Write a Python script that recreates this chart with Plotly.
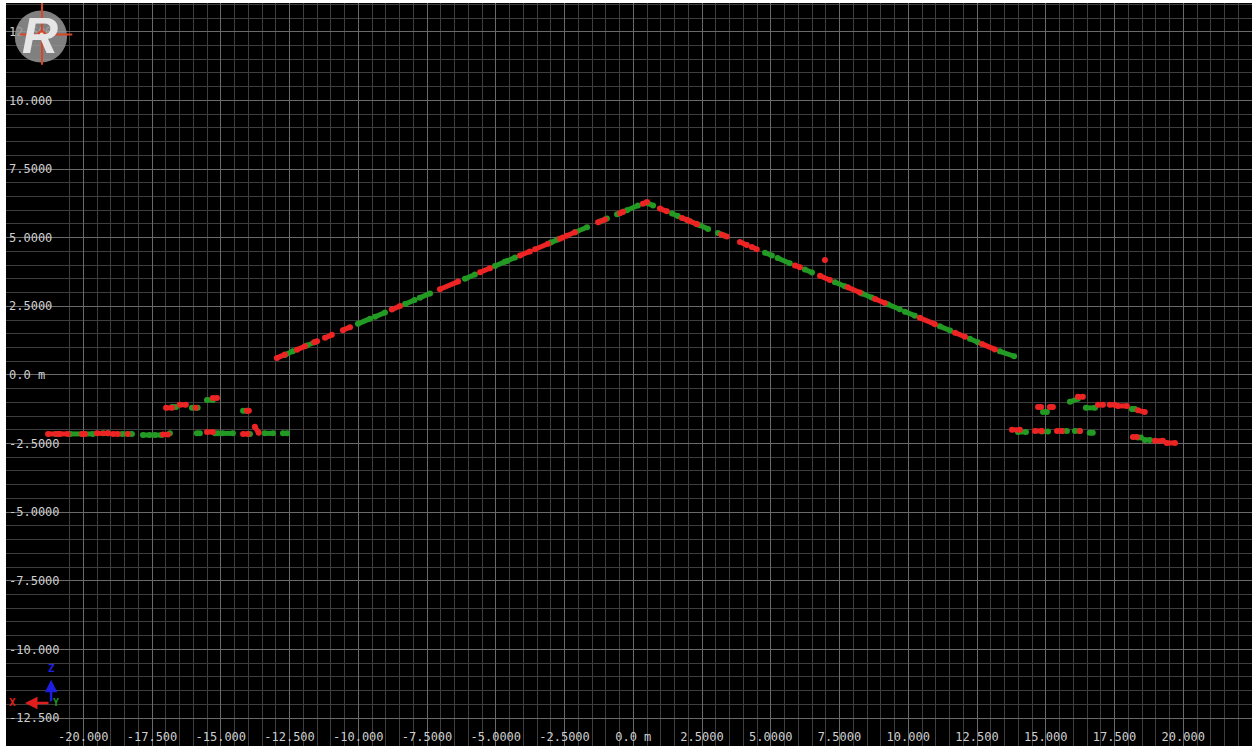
import plotly.graph_objects as go

# ---- tick labels ----
x_ticks = [-20, -17.5, -15, -12.5, -10, -7.5, -5, -2.5, 0, 2.5, 5, 7.5, 10, 12.5, 15, 17.5, 20]
x_labels = ["-20.000", "-17.500", "-15.000", "-12.500", "-10.000", "-7.5000", "-5.0000", "-2.5000",
            "0.0 m", "2.5000", "5.0000", "7.5000", "10.000", "12.500", "15.000", "17.500", "20.000"]
y_ticks = [12.5, 10, 7.5, 5, 2.5, 0, -2.5, -5, -7.5, -10, -12.5]
y_labels = ["12.500", "10.000", "7.5000", "5.0000", "2.5000", "0.0 m",
            "-2.5000", "-5.0000", "-7.5000", "-10.000", "-12.500"]

# ---- red returns (dashes separated by None) ----
red_x = [
    # left roof slope
    -12.96, -12.67, None, -12.23, -11.94, None, -11.61, -11.50, None, -11.21, -10.96, None,
    -10.56, -10.30, None, -8.78, -8.48, None, -7.03, -6.37, None, -5.57, -5.21, None,
    -4.12, -3.76, None, -3.57, -3.10, None, -2.67, -2.56, None, -2.42, -2.12, None,
    -1.28, -1.03, None, -0.48, -0.37, None, 0.35, 0.50, None,
    # right roof slope
    0.97, 1.22, None, 1.77, 1.95, None, 2.06, 2.32, None, 3.20, 3.40, None, 3.88, 4.13, None,
    4.31, 4.49, None, 5.88, 6.06, None, 6.79, 7.15, None, 7.80, 8.24, None, 8.79, 9.15, None,
    10.42, 10.97, None, 11.70, 12.06, None, 12.68, 13.15, None, 6.97, None,
    # left ground
    -21.28, -20.92, None, -20.85, -20.56, None, -20.05, -19.94, None, -19.50, -19.10, None,
    -18.92, -18.74, None, -18.38, None, -17.10, -16.92, None, -15.50, -15.29, None,
    -14.19, -14.02, None, -13.76, -13.62, None,
    -16.99, -16.77, None, -16.49, -16.27, None, -15.91, None, -15.29, -15.14, None, -14.05, -13.98, None,
    # right ground
    13.77, 14.06, None, 14.61, 14.86, None, 15.41, 15.59, None, 16.24, None,
    14.72, 14.83, None, 15.15, 15.26, None, 16.17, 16.35, None, 16.90, 17.08, None,
    17.33, 17.51, None, 17.62, 17.95, None, 18.35, 18.60, None,
    18.17, 18.31, None, 18.97, 19.26, None, 19.40, 19.70,
]
red_y = [
    0.62, 0.74, None, 0.92, 1.04, None, 1.19, 1.23, None, 1.35, 1.46, None,
    1.63, 1.74, None, 2.38, 2.51, None, 3.12, 3.40, None, 3.74, 3.89, None,
    4.35, 4.50, None, 4.58, 4.78, None, 4.96, 5.01, None, 5.07, 5.20, None,
    5.56, 5.66, None, 5.89, 5.94, None, 6.24, 6.30, None,
    6.06, 5.96, None, 5.72, 5.65, None, 5.60, 5.49, None, 5.12, 5.04, None, 4.84, 4.73, None,
    4.66, 4.58, None, 3.99, 3.92, None, 3.61, 3.46, None, 3.19, 3.00, None, 2.77, 2.62, None,
    2.08, 1.85, None, 1.54, 1.39, None, 1.13, 0.93, None, 4.19, None,
    -2.15, -2.15, None, -2.15, -2.15, None, -2.15, -2.15, None, -2.13, -2.13, None,
    -2.15, -2.15, None, -2.15, None, -2.17, -2.17, None, -2.08, -2.08, None,
    -2.15, -2.15, None, -1.89, -2.11, None,
    -1.20, -1.20, None, -1.09, -1.09, None, -1.20, None, -0.84, -0.84, None, -1.31, -1.31, None,
    -2.00, -2.00, None, -2.04, -2.04, None, -2.04, -2.04, None, -2.04, None,
    -1.17, -1.17, None, -1.17, -1.17, None, -0.80, -0.80, None, -1.09, -1.09, None,
    -1.09, -1.09, None, -1.13, -1.13, None, -1.29, -1.35, None,
    -2.26, -2.26, None, -2.40, -2.40, None, -2.48, -2.48,
]

# ---- green returns ----
green_x = [
    # left roof slope
    -12.67, -12.38, None, -11.87, -11.58, None, -10.01, -9.57, None, -9.39, -9.03, None,
    -8.30, -7.95, None,
    -7.76, -7.39, None, -6.12, -5.76, None, -5.03, -4.67, None, -4.59, -4.30, None,
    -3.00, -2.75, None,
    -2.12, -1.68, None, -1.21, -0.96, None, -0.59, -0.37, None, -0.23, 0.17, None,
    # right roof slope
    0.53, 0.72, None, 1.41, 1.62, None, 1.99, 2.32, None, 2.42, 2.72, None, 3.08, 3.30, None,
    4.79, 5.04, None, 5.25, 5.69, None, 6.24, 6.50, None, 7.33, 7.69, None, 8.31, 8.67, None,
    9.26, 9.69, None, 9.88, 10.24, None, 11.15, 11.52, None, 12.24, 12.53, None,
    13.33, 13.85, None,
    # left ground
    -21.00, -20.90, None, -20.48, -19.65, None, -19.28, -19.10, None, -18.59, -18.23, None,
    -17.83, -17.58, None, -17.40, -17.15, None, -16.85, None, -15.87, -15.76, None,
    -15.21, -15.10, None, -14.93, -14.56, None, -13.94, None, -13.40, -13.10, None,
    -12.74, -12.59, None,
    -16.77, -16.63, None, -16.05, -15.84, None, -15.50, -15.29, None, -14.19, -14.05, None,
    # right ground
    13.99, 14.28, None, 14.86, 15.08, None, 15.59, 15.77, None, 16.06, 16.24, None, 16.60, 16.71, None,
    14.90, 15.04, None, 15.88, 16.17, None, 16.46, 16.79, None, 18.13, 18.24, None,
    18.35, 18.46, None, 18.60, 18.79,
]
green_y = [
    0.73, 0.86, None, 1.07, 1.19, None, 1.86, 2.05, None, 2.12, 2.27, None,
    2.58, 2.73, None,
    2.81, 2.97, None, 3.50, 3.66, None, 3.97, 4.12, None, 4.15, 4.28, None,
    4.82, 4.93, None,
    5.20, 5.38, None, 5.59, 5.70, None, 5.85, 5.94, None, 6.00, 6.17, None,
    6.25, 6.17, None, 5.88, 5.79, None, 5.63, 5.49, None, 5.45, 5.32, None, 5.17, 5.08, None,
    4.45, 4.35, None, 4.26, 4.07, None, 3.84, 3.73, None, 3.38, 3.23, None, 2.97, 2.82, None,
    2.57, 2.39, None, 2.30, 2.16, None, 1.77, 1.62, None, 1.32, 1.19, None,
    0.86, 0.68, None,
    -2.15, -2.15, None, -2.15, -2.15, None, -2.13, -2.13, None, -2.15, -2.15, None,
    -2.19, -2.19, None, -2.19, -2.19, None, -2.13, None, -2.13, -2.13, None,
    -2.13, -2.13, None, -2.13, -2.13, None, -2.15, None, -2.13, -2.13, None,
    -2.13, -2.13, None,
    -1.17, -1.17, None, -1.20, -1.20, None, -0.91, -0.91, None, -1.31, -1.31, None,
    -2.08, -2.08, None, -2.06, -2.06, None, -2.04, -2.04, None, -2.04, -2.04, None, -2.11, -2.11, None,
    -1.35, -1.35, None, -0.98, -0.87, None, -1.20, -1.20, None, -1.24, -1.24, None,
    -2.28, -2.28, None, -2.37, -2.37,
]

RED = "#ec2424"
GREEN = "#239a23"
LABEL_FONT = dict(family="DejaVu Sans Mono", size=12, color="#cfcfcf")

fig = go.Figure()
fig.add_trace(go.Scatter(x=green_x, y=green_y, mode="lines+markers", connectgaps=False,
                         line=dict(color=GREEN, width=5), marker=dict(color=GREEN, size=6),
                         hoverinfo="skip", showlegend=False))
fig.add_trace(go.Scatter(x=red_x, y=red_y, mode="lines+markers", connectgaps=False,
                         line=dict(color=RED, width=5), marker=dict(color=RED, size=6),
                         hoverinfo="skip", showlegend=False))

# logo (top-left)
fig.add_shape(type="circle", xref="x", yref="y", x0=-22.49, x1=-20.59, y0=11.38, y1=13.28,
              fillcolor="rgba(150,150,150,0.85)", line=dict(width=0), layer="above")
fig.add_annotation(x=-21.58, y=12.33, xref="x", yref="y", text="<b><i>R</i></b>", showarrow=False,
                   font=dict(family="Liberation Sans", size=50, color="#e6e6e6"))
fig.add_shape(type="line", xref="x", yref="y", x0=-21.50, x1=-21.50, y0=13.55, y1=11.3,
              line=dict(color="#d8462a", width=2), layer="above")
fig.add_shape(type="line", xref="x", yref="y", x0=-22.3, x1=-20.4, y0=12.40, y1=12.40,
              line=dict(color="#d8462a", width=2), layer="above")
fig.add_shape(type="circle", xref="x", yref="y", x0=-21.62, x1=-21.40, y0=12.29, y1=12.51,
              fillcolor="#f0e0d0", line=dict(color="#d8462a", width=2), layer="above")

# axes indicator (bottom-left)
fig.add_annotation(x=-22.12, y=-11.95, ax=25, ay=0, xref="x", yref="y", text="", showarrow=True,
                   arrowhead=2, arrowsize=1, arrowwidth=2.5, arrowcolor="#e01e1e")
fig.add_annotation(x=-21.17, y=-11.11, ax=0, ay=23, xref="x", yref="y", text="", showarrow=True,
                   arrowhead=2, arrowsize=1, arrowwidth=2.5, arrowcolor="#1e1ee0")
fig.add_annotation(x=-22.56, y=-11.95, xref="x", yref="y", text="<b>X</b>", showarrow=False,
                   font=dict(family="DejaVu Sans Mono", size=11, color="#e01e1e"))
fig.add_annotation(x=-21.17, y=-10.71, xref="x", yref="y", text="<b>Z</b>", showarrow=False,
                   font=dict(family="DejaVu Sans Mono", size=11, color="#2020e6"))
fig.add_annotation(x=-21.00, y=-11.95, xref="x", yref="y", text="<b>Y</b>", showarrow=False,
                   font=dict(family="DejaVu Sans Mono", size=10, color="#1e9a1e"))

fig.update_layout(
    width=1252, height=746,
    margin=dict(l=6, r=0, t=3, b=0, pad=0),
    paper_bgcolor="white", plot_bgcolor="black",
    showlegend=False,
)
fig.update_xaxes(range=[-22.81, 22.5], tickmode="array", tickvals=x_ticks, ticktext=x_labels,
                 ticklabelposition="inside", tickfont=LABEL_FONT, ticks="",
                 showgrid=True, gridcolor="#6a6a6a", gridwidth=1, zeroline=False, showline=False,
                 minor=dict(tickmode="linear", tick0=0, dtick=0.5, showgrid=True, gridcolor="#3e3e3e", gridwidth=1))
fig.update_yaxes(range=[-13.52, 13.55], tickmode="array", tickvals=y_ticks, ticktext=y_labels,
                 ticklabelposition="inside", tickfont=LABEL_FONT, ticks="",
                 showgrid=True, gridcolor="#6a6a6a", gridwidth=1, zeroline=False, showline=False,
                 minor=dict(tickmode="linear", tick0=0, dtick=0.5, showgrid=True, gridcolor="#3e3e3e", gridwidth=1))

fig.write_html("out.html", config={"displayModeBar": False},
               post_script="document.body.style.margin='0px';document.body.style.overflow='hidden';")
